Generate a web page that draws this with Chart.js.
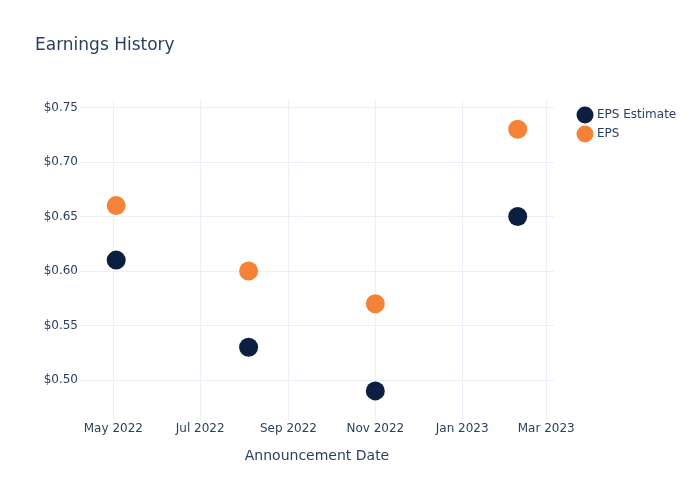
<!DOCTYPE html>
<html>
<head>
<meta charset="utf-8">
<script src="https://cdn.jsdelivr.net/npm/chart.js@4.4.1/dist/chart.umd.min.js"></script>
<style>
  html, body { margin: 0; padding: 0; background: #ffffff; }
  #wrap { width: 700px; height: 500px; position: relative; }
</style>
</head>
<body>
<div id="wrap"><canvas id="c" width="700" height="500"></canvas></div>
<script>
// ---- data ----
const announceDates = ['2022-05-03', '2022-08-04', '2022-11-01', '2023-02-09'];
const epsEstimate = [0.61, 0.53, 0.49, 0.65];
const epsActual = [0.66, 0.60, 0.57, 0.73];
const seriesNames = ['EPS Estimate', 'EPS'];
const xTickDates = ['2022-05-01', '2022-07-01', '2022-09-01', '2022-11-01', '2023-01-01', '2023-03-01'];
const xTickLabels = ['May 2022', 'Jul 2022', 'Sep 2022', 'Nov 2022', 'Jan 2023', 'Mar 2023'];
const yTickValues = [0.50, 0.55, 0.60, 0.65, 0.70, 0.75];
const xRange = ['2022-04-07T14:00:00Z', '2023-03-06T12:00:00Z'];
const yRange = [0.4633, 0.7569];

const toMs = d => Date.parse(d.length === 10 ? d + 'T00:00:00Z' : d);

const TEXT = '#2a3f5f';
const GRID = '#ebf0f8';
const FONT = "'DejaVu Sans', Verdana, sans-serif";

const layoutFix = {
  id: 'layoutFix',
  beforeLayout(chart) {
    const lg = chart.legend;
    if (lg && !lg._fixed) {
      const f = lg.fit;
      lg.fit = function () { f.call(this); this.width = 146; };
      lg._fixed = true;
    }
  },
  afterLayout(chart) {
    const lg = chart.legend;
    if (lg) {
      const w = lg.width, h = lg.height;
      lg.left = 572; lg.right = lg.left + w;
      lg.top = 102; lg.bottom = lg.top + h;
    }
  }
};

new Chart(document.getElementById('c'), {
  type: 'scatter',
  data: {
    datasets: [
      {
        label: seriesNames[0],
        data: announceDates.map((d, i) => ({ x: toMs(d), y: epsEstimate[i] })),
        backgroundColor: '#0d1f40',
        borderWidth: 0,
        pointRadius: 9.5,
        pointStyle: 'circle'
      },
      {
        label: seriesNames[1],
        data: announceDates.map((d, i) => ({ x: toMs(d), y: epsActual[i] })),
        backgroundColor: '#f68237',
        borderWidth: 0,
        pointRadius: 9.5,
        pointStyle: 'circle'
      }
    ]
  },
  plugins: [layoutFix],
  options: {
    responsive: false,
    animation: false,
    events: [],
    layout: { padding: { left: 35, top: 35, right: 0, bottom: 0 } },
    plugins: {
      tooltip: { enabled: false },
      title: {
        display: true,
        text: 'Earnings History',
        align: 'start',
        color: TEXT,
        font: { family: FONT, size: 17, weight: 'normal' },
        padding: { top: 0, bottom: 44.6 }
      },
      legend: {
        display: true,
        position: 'right',
        align: 'start',
        labels: {
          usePointStyle: true,
          pointStyle: 'circle',
          color: TEXT,
          font: { family: FONT, size: 12 },
          padding: 7
        }
      }
    },
    scales: {
      x: {
        type: 'linear',
        min: toMs(xRange[0]),
        max: toMs(xRange[1]),
        afterBuildTicks: s => { s.ticks = xTickDates.map(d => ({ value: toMs(d) })); },
        afterFit: s => { s.height = 80; },
        ticks: {
          autoSkip: false,
          maxRotation: 0,
          padding: 2,
          color: TEXT,
          font: { family: FONT, size: 12 },
          callback: (v, i) => xTickLabels[i]
        },
        grid: { color: GRID, lineWidth: 1, drawTicks: false },
        border: { display: false },
        title: {
          display: true,
          text: 'Announcement Date',
          color: TEXT,
          font: { family: FONT, size: 14 },
          padding: { top: 0, bottom: 35 }
        }
      },
      y: {
        type: 'linear',
        min: yRange[0],
        max: yRange[1],
        afterBuildTicks: s => { s.ticks = yTickValues.map(v => ({ value: v })); },
        afterFit: s => { s.width = 45; },
        ticks: {
          padding: 2,
          color: TEXT,
          font: { family: FONT, size: 12 },
          callback: v => '$' + Number(v).toFixed(2)
        },
        grid: { color: GRID, lineWidth: 1, drawTicks: false },
        border: { display: false }
      }
    }
  }
});
</script>
</body>
</html>
